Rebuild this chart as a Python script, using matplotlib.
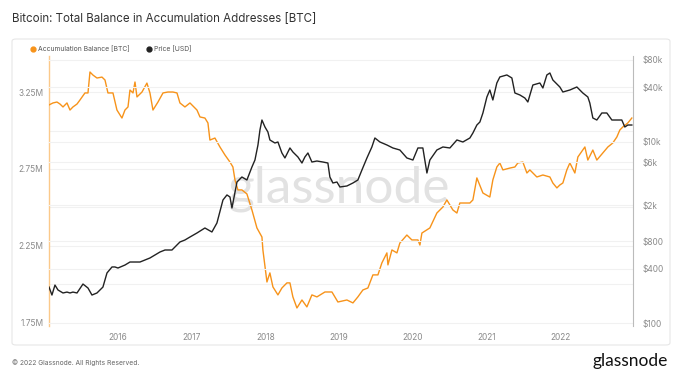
import matplotlib.pyplot as plt
from matplotlib.lines import Line2D
from matplotlib.patches import FancyBboxPatch
from matplotlib.ticker import FixedLocator, NullLocator

plt.rcParams['font.family'] = ['Inter', 'DejaVu Sans']

# Accumulation balance (millions of BTC), dates as decimal years
bal_t = [2015.064, 2015.118, 2015.172, 2015.213, 2015.254, 2015.308, 2015.349, 2015.389, 2015.444, 2015.484,
         2015.552, 2015.593, 2015.620, 2015.661, 2015.715, 2015.783, 2015.824, 2015.864, 2015.932, 2015.986,
         2016.054, 2016.095, 2016.136, 2016.163, 2016.204, 2016.231, 2016.258, 2016.326, 2016.393, 2016.434,
         2016.475, 2016.543, 2016.611, 2016.678, 2016.746, 2016.801, 2016.841, 2016.909, 2016.977, 2017.072,
         2017.113, 2017.180, 2017.221, 2017.248, 2017.316, 2017.384, 2017.452, 2017.520, 2017.560, 2017.588,
         2017.628, 2017.682, 2017.750, 2017.818, 2017.886, 2017.954, 2017.967, 2018.022, 2018.062, 2018.103,
         2018.171, 2018.225, 2018.293, 2018.334, 2018.374, 2018.429, 2018.497, 2018.564, 2018.632, 2018.700,
         2018.809, 2018.904, 2018.985, 2019.107, 2019.189, 2019.256, 2019.324, 2019.392, 2019.460, 2019.528,
         2019.582, 2019.650, 2019.664, 2019.718, 2019.786, 2019.826, 2019.921, 2019.989, 2020.071, 2020.098,
         2020.125, 2020.233, 2020.328, 2020.410, 2020.464, 2020.545, 2020.600, 2020.640, 2020.776, 2020.817,
         2020.871, 2020.953, 2021.047, 2021.088, 2021.142, 2021.183, 2021.224, 2021.319, 2021.387, 2021.427,
         2021.495, 2021.550, 2021.590, 2021.685, 2021.767, 2021.862, 2021.902, 2021.957, 2021.997, 2022.038,
         2022.092, 2022.133, 2022.201, 2022.242, 2022.337, 2022.377, 2022.445, 2022.499, 2022.581, 2022.649,
         2022.716, 2022.771, 2022.811, 2022.852, 2022.920, 2022.974]
bal_v = [3.166, 3.179, 3.185, 3.172, 3.153, 3.179, 3.133, 3.153, 3.172, 3.198,
         3.244, 3.244, 3.380, 3.360, 3.341, 3.347, 3.328, 3.244, 3.244, 3.133,
         3.081, 3.133, 3.153, 3.263, 3.244, 3.315, 3.218, 3.250, 3.308, 3.244,
         3.133, 3.185, 3.244, 3.250, 3.250, 3.244, 3.179, 3.153, 3.179, 3.133,
         3.088, 3.081, 3.049, 2.938, 2.951, 2.893, 2.841, 2.795, 2.763, 2.679,
         2.614, 2.614, 2.588, 2.484, 2.367, 2.308, 2.224, 2.016, 2.075, 1.984,
         1.932, 1.977, 2.010, 2.010, 1.919, 1.847, 1.899, 1.854, 1.932, 1.919,
         1.951, 1.951, 1.886, 1.899, 1.880, 1.919, 1.964, 1.977, 2.062, 2.062,
         2.140, 2.205, 2.127, 2.224, 2.205, 2.269, 2.321, 2.289, 2.289, 2.256,
         2.334, 2.367, 2.464, 2.503, 2.549, 2.484, 2.464, 2.529, 2.529, 2.549,
         2.692, 2.594, 2.568, 2.679, 2.763, 2.789, 2.744, 2.756, 2.763, 2.789,
         2.795, 2.724, 2.744, 2.698, 2.711, 2.698, 2.659, 2.627, 2.646, 2.659,
         2.744, 2.789, 2.724, 2.828, 2.893, 2.808, 2.873, 2.808, 2.854, 2.893,
         2.919, 2.958, 3.003, 3.023, 3.049, 3.081]

# BTC price (USD)
price_t = [2015.064, 2015.104, 2015.145, 2015.186, 2015.254, 2015.308, 2015.349, 2015.389, 2015.444, 2015.525,
           2015.593, 2015.647, 2015.715, 2015.796, 2015.851, 2015.919, 2015.959, 2016.000, 2016.095, 2016.163,
           2016.299, 2016.434, 2016.570, 2016.638, 2016.733, 2016.841, 2016.909, 2016.977, 2017.072, 2017.180,
           2017.275, 2017.343, 2017.425, 2017.479, 2017.520, 2017.547, 2017.615, 2017.682, 2017.750, 2017.818,
           2017.859, 2017.900, 2017.927, 2017.954, 2017.995, 2018.035, 2018.062, 2018.130, 2018.171, 2018.225,
           2018.266, 2018.334, 2018.374, 2018.442, 2018.497, 2018.537, 2018.578, 2018.632, 2018.700, 2018.782,
           2018.849, 2018.876, 2018.917, 2018.972, 2019.012, 2019.107, 2019.189, 2019.256, 2019.311, 2019.379,
           2019.446, 2019.487, 2019.555, 2019.650, 2019.731, 2019.826, 2019.921, 2020.003, 2020.071, 2020.138,
           2020.193, 2020.233, 2020.328, 2020.410, 2020.505, 2020.600, 2020.681, 2020.776, 2020.817, 2020.871,
           2020.912, 2020.953, 2021.007, 2021.047, 2021.088, 2021.142, 2021.183, 2021.278, 2021.346, 2021.387,
           2021.455, 2021.522, 2021.563, 2021.631, 2021.726, 2021.767, 2021.821, 2021.862, 2021.902, 2021.997,
           2022.038, 2022.133, 2022.228, 2022.309, 2022.377, 2022.404, 2022.445, 2022.499, 2022.567, 2022.635,
           2022.703, 2022.771, 2022.838, 2022.879, 2022.920, 2022.974]
price_v = [251, 205, 264, 233, 216, 221, 216, 221, 216, 271,
           245, 205, 216, 251, 359, 418, 418, 407, 439, 474,
           474, 525, 611, 643, 643, 788, 829, 894, 990, 1124,
           1016, 1276, 2288, 2600, 2470, 1868, 3612, 4102, 3802, 5286,
           6312, 9247, 13530, 17430, 14600, 12850, 10500, 9726, 9977, 7548,
           6650, 8570, 7740, 6820, 5850, 6820, 7548, 6000, 6155, 6000,
           5850, 4102, 3524, 3612, 3184, 3265, 3524, 3802, 4900, 6650,
           8790, 11040, 9977, 9247, 8570, 8140, 6650, 6312, 8570, 8570,
           4540, 6312, 8140, 8790, 8570, 10500, 9977, 11040, 12530, 15350,
           16570, 20830, 31270, 37330, 28970, 44600, 51990, 54690, 50680, 34610,
           32890, 30480, 27540, 42390, 44600, 39290, 54690, 57500, 48170, 40300,
           35480, 37330, 40300, 34610, 31270, 26830, 18350, 17430, 20830, 20830,
           17430, 17430, 17430, 14600, 15350, 15350]

year_ticks = [2016, 2017, 2018, 2019, 2020, 2021, 2022]
bal_ticks = [1.75, 2.25, 2.75, 3.25]
bal_labels = ['1.75M', '2.25M', '2.75M', '3.25M']
price_ticks = [100, 400, 800, 2000, 6000, 10000, 40000, 80000]
price_labels = ['$100', '$400', '$800', '$2k', '$6k', '$10k', '$40k', '$80k']

orange = '#f7931a'
dark = '#222222'
tick_col = '#8a8a8a'

fig = plt.figure(figsize=(6.82, 3.76), dpi=100)
W, H = 682, 376

# card around the chart
card = FancyBboxPatch((12 / W, 1 - 345 / H), 658 / W, 306 / H,
                      boxstyle='round,pad=0,rounding_size=0.006',
                      transform=fig.transFigure, fc='white', ec='#e6e6e6', lw=0.8, zorder=-5)
fig.patches.append(card)

ax = fig.add_axes([49 / W, 1 - 326 / H, 584 / W, 270 / H])
ax2 = ax.twinx()
ax.set_zorder(1)
ax2.set_zorder(2)
ax.patch.set_visible(False)
ax2.patch.set_visible(False)

ax.set_xlim(2015.064, 2022.99)
ax.set_ylim(1.730, 3.484)
ax2.set_yscale('log')
ax2.set_ylim(93.4, 88500)

# faint horizontal grid
for v in [2.0, 2.25, 2.5, 2.75, 3.0, 3.25]:
    ax.axhline(v, color='#f1f1f1', lw=0.8, zorder=0)
for p in price_ticks:
    ax2.axhline(p, color='#f1f1f1', lw=0.8, zorder=0)

ax.text(2019.0, 2.62, 'glassnode', fontsize=37, color='#e2e2e2', ha='center', va='center',
        zorder=0.5, family=['Lato', 'DejaVu Sans'])

ax2.plot(price_t, price_v, color=dark, lw=1.0, zorder=3)
ax.plot(bal_t, bal_v, color=orange, lw=1.0, zorder=4)

ax.set_xticks(year_ticks)
ax.set_xticklabels([str(y) for y in year_ticks])
ax.set_yticks(bal_ticks)
ax.set_yticklabels(bal_labels)
ax2.yaxis.set_major_locator(FixedLocator(price_ticks))
ax2.yaxis.set_minor_locator(NullLocator())
ax2.set_yticklabels(price_labels)

for a in (ax, ax2):
    a.tick_params(length=0, labelsize=6, colors=tick_col)
    for s in a.spines.values():
        s.set_visible(False)
ax.tick_params(axis='y', pad=4)
ax.tick_params(axis='x', pad=5)
ax2.tick_params(axis='y', pad=7)
ax.spines['left'].set_visible(True)
ax.spines['left'].set_color('#fbc98a')
ax.spines['left'].set_linewidth(1.0)
ax2.spines['right'].set_visible(True)
ax2.spines['right'].set_color('#bbbbbb')
ax2.spines['right'].set_linewidth(0.8)

fig.text(12 / W, 1 - 19 / H, 'Bitcoin: Total Balance in Accumulation Addresses [BTC]',
         fontsize=8.3, color='#333333', va='center', ha='left')

handles = [Line2D([], [], ls='', marker='o', ms=3.5, color=orange),
           Line2D([], [], ls='', marker='o', ms=3.5, color=dark)]
fig.legend(handles, ['Accumulation Balance [BTC]', 'Price [USD]'], loc='center left',
           bbox_to_anchor=(25 / W, 1 - 49 / H), ncol=2, frameon=False, fontsize=4.9,
           handlelength=0.6, handletextpad=0.4, columnspacing=2.6, labelcolor='#555555')

fig.text(12 / W, 1 - 363 / H, '\u00a9 2022 Glassnode. All Rights Reserved.',
         fontsize=4.8, color='#666666', va='center', ha='left')
fig.text(668 / W, 1 - 361 / H, 'glassnode', fontsize=12.5, color='#111111',
         va='center', ha='right', family=['Lato', 'DejaVu Sans'])

fig.savefig('out.png', dpi=100, facecolor='white')
